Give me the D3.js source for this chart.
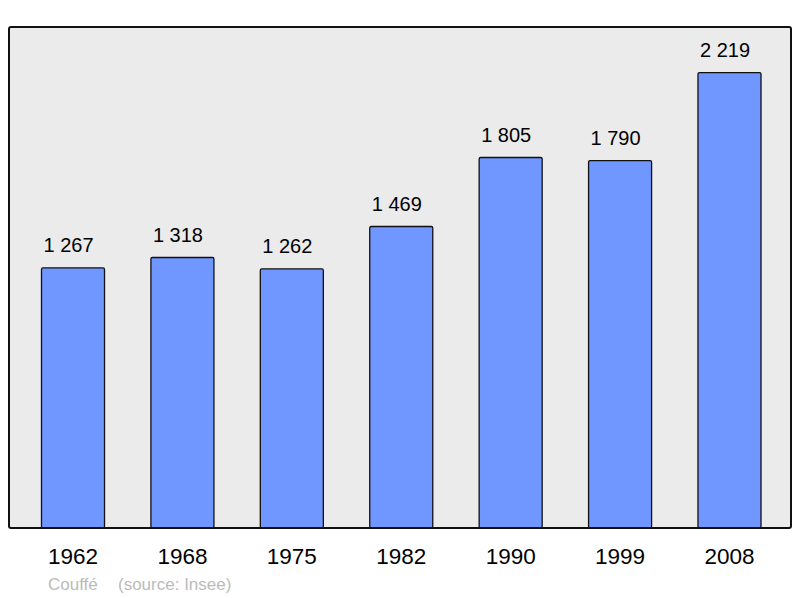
<!DOCTYPE html>
<html>
<head>
<meta charset="utf-8">
<script src="https://d3js.org/d3.v7.min.js"></script>
<style>
  html, body { margin: 0; padding: 0; background: #fff; }
  svg { display: block; font-family: "Liberation Sans", Arial, sans-serif; }
</style>
</head>
<body>
<svg id="mainsvg" width="800" height="598"></svg>
<script>
const years = ['1962', '1968', '1975', '1982', '1990', '1999', '2008']
const population = [1267, 1318, 1262, 1469, 1805, 1790, 2219]
const commune = 'Couffé'
const source = '(source: Insee)'

const svg = d3.select('#mainsvg')
const width = +svg.attr('width')
const height = +svg.attr('height')
const frame = { left: 9, top: 27, right: 791, bottom: 528 }

// plot background
svg.append('rect')
    .attr('x', frame.left).attr('y', frame.top)
    .attr('width', frame.right - frame.left)
    .attr('height', frame.bottom - frame.top)
    .attr('rx', 2)
    .attr('fill', '#ebebeb')

const x = d3.scaleBand()
    .domain(years)
    .range([18.3, 784.2])
    .paddingInner(0.424)
    .paddingOuter(0.212)

const y = d3.scaleLinear()
    .domain([0, d3.max(population) * 1.1])
    .range([frame.bottom, frame.top])

const data = years.map((yr, i) => ({ year: yr, value: population[i] }))

const g = svg.append('g').attr('id', 'maingroup')

g.selectAll('rect.bar').data(data).join('rect')
    .attr('class', 'bar')
    .attr('x', d => x(d.year))
    .attr('y', d => y(d.value))
    .attr('width', x.bandwidth())
    .attr('height', d => y(0) - y(d.value))
    .attr('rx', 1.5)
    .attr('fill', '#7096ff')
    .attr('stroke', '#111')
    .attr('stroke-width', 1.3)

const fmt = v => d3.format(',')(v).replace(/,/g, ' ')

g.selectAll('text.val').data(data).join('text')
    .attr('class', 'val')
    .attr('x', d => x(d.year) + x.bandwidth() / 2 - 4.5)
    .attr('y', d => y(d.value) - 15.5)
    .attr('text-anchor', 'middle')
    .attr('font-size', 20)
    .attr('fill', '#000')
    .text(d => fmt(d.value))

// frame on top
svg.append('rect')
    .attr('x', frame.left).attr('y', frame.top)
    .attr('width', frame.right - frame.left)
    .attr('height', frame.bottom - frame.top)
    .attr('rx', 2)
    .attr('fill', 'none')
    .attr('stroke', '#111')
    .attr('stroke-width', 2)

const xAxis = d3.axisBottom(x).tickSize(0).tickPadding(0)
const ax = svg.append('g')
    .attr('transform', `translate(0, ${frame.bottom})`)
    .call(xAxis)
ax.select('.domain').remove()
ax.selectAll('text')
    .attr('dy', null)
    .attr('y', 36)
    .attr('font-size', 22.5)
    .attr('font-family', '"Liberation Sans", Arial, sans-serif')
    .attr('fill', '#000')

svg.append('text')
    .attr('x', 48).attr('y', 590)
    .attr('font-size', 17)
    .attr('fill', '#bbbbbb')
    .text(commune)
svg.append('text')
    .attr('x', 118).attr('y', 590)
    .attr('font-size', 17)
    .attr('fill', '#bbbbbb')
    .text(source)
</script>
</body>
</html>
